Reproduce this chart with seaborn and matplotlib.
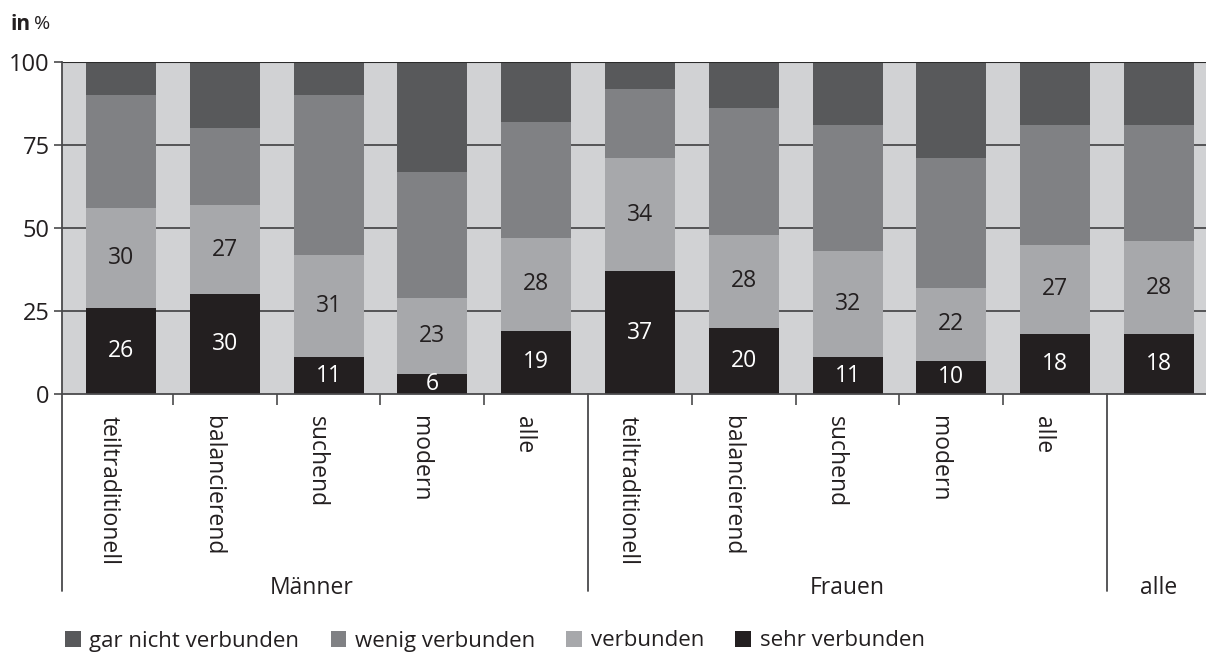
import matplotlib
matplotlib.use("Agg")
import matplotlib.pyplot as plt
import matplotlib.transforms as mtransforms
from matplotlib.patches import Patch
from matplotlib.lines import Line2D
import numpy as np
import pandas as pd
import seaborn as sns

# --- data -------------------------------------------------------------
groups = ["Männer"] * 5 + ["Frauen"] * 5 + ["alle"]
types = ["teiltraditionell", "balancierend", "suchend", "modern", "alle",
         "teiltraditionell", "balancierend", "suchend", "modern", "alle", ""]
sehr_verbunden = [26, 30, 11, 6, 19, 37, 20, 11, 10, 18, 18]
verbunden = [30, 27, 31, 23, 28, 34, 28, 32, 22, 27, 28]
wenig_verbunden = [34, 23, 48, 38, 35, 21, 38, 38, 39, 36, 35]
gar_nicht_verbunden = [10, 20, 10, 33, 18, 8, 14, 19, 29, 19, 19]
group_names = ["Männer", "Frauen", "alle"]
y_ticks = [0, 25, 50, 75, 100]
series_names = ["gar nicht verbunden", "wenig verbunden", "verbunden", "sehr verbunden"]

# --- styling ----------------------------------------------------------
sns.set_theme(style="white")
plt.rcParams["font.family"] = ["Open Sans", "DejaVu Sans"]
colors = {
    "gar nicht verbunden": "#58595b",
    "wenig verbunden": "#808184",
    "verbunden": "#a7a8ab",
    "sehr verbunden": "#231f20",
}
bg = "#d1d2d4"
line_col = "#4a4a4c"
txt_col = "#231f20"
fs = 16.5

W, H = 1206, 657
fig = plt.figure(figsize=(W / 100, H / 100), dpi=100)
ax = fig.add_axes([62 / W, (H - 394) / H, (W - 62) / W, 332 / H])
ax.set_facecolor(bg)

keys = [f"{g}|{t}|{i}" for i, (g, t) in enumerate(zip(groups, types))]
df = pd.DataFrame({
    "key": keys,
    "sehr verbunden": sehr_verbunden,
    "verbunden": verbunden,
    "wenig verbunden": wenig_verbunden,
    "gar nicht verbunden": gar_nicht_verbunden,
})
# cumulative heights, stacked from the bottom layer upwards
stack_order = ["sehr verbunden", "verbunden", "wenig verbunden", "gar nicht verbunden"]
cum = df[stack_order].cumsum(axis=1)

# draw tallest cumulative layer first so each lower layer covers it
bar_w = 0.674
for name in reversed(stack_order):
    sns.barplot(x=df["key"], y=cum[name], order=keys, color=colors[name],
                width=bar_w, saturation=1, ax=ax, zorder=2, linewidth=0)

# value labels for the two lower segments
for i in range(len(keys)):
    s = sehr_verbunden[i]
    v = verbunden[i]
    ax.text(i, s / 2, f"{s}", ha="center", va="center", color="white",
            fontsize=fs, zorder=4)
    ax.text(i, s + v / 2, f"{v}", ha="center", va="center", color=txt_col,
            fontsize=fs, zorder=4)

# axes limits and grid
x_left = -0.568
x_right = (W - 121) / 103.8
ax.set_xlim(x_left, x_right)
ax.set_ylim(0, 100)
ax.set_yticks(y_ticks)
ax.set_yticklabels([str(t) for t in y_ticks], fontsize=fs + 0.5, color=txt_col)
ax.grid(False)
for t in y_ticks[1:-1]:
    ax.axhline(t, color=line_col, lw=1.3, zorder=1)
ax.axhline(100, color="#2b2b2b", lw=1.5, zorder=5)
ax.tick_params(axis="y", which="major", length=6, width=1.2, color=line_col,
               direction="out", left=True, pad=3)

for side in ["top", "right"]:
    ax.spines[side].set_visible(False)
for side in ["left", "bottom"]:
    ax.spines[side].set_color(line_col)
    ax.spines[side].set_linewidth(1.3)
    ax.spines[side].set_zorder(5)

# x axis: short ticks between categories, rotated labels at bar centres
boundaries = [0.5, 1.5, 2.5, 3.5, 5.5, 6.5, 7.5, 8.5]
ax.set_xticks(boundaries)
ax.set_xticklabels([])
ax.tick_params(axis="x", which="major", length=8, width=1.2, color=line_col,
               direction="out", bottom=True)
ax.set_xticks(range(len(keys)), minor=True)
ax.set_xticklabels(types, minor=True, rotation=-90, fontsize=fs,
                   color=txt_col, va="top", ha="center")
ax.tick_params(axis="x", which="minor", length=0, pad=16)
shift = mtransforms.ScaledTranslation(-12 / 100, 0, fig.dpi_scale_trans)
for lab in ax.get_xticklabels(minor=True):
    lab.set_transform(lab.get_transform() + shift)
ax.set_xlabel("")
ax.set_ylabel("")

# long separator lines between groups, reaching down to the group labels
sep_bottom = -(591 - 394) / 332
trans = mtransforms.blended_transform_factory(ax.transData, ax.transAxes)
for xs in [x_left, 4.5, 9.5]:
    ax.add_line(Line2D([xs, xs], [0, sep_bottom], transform=trans,
                       color=line_col, lw=1.3, clip_on=False))

group_y = -(588 - 394) / 332
for name, xc in zip(group_names, [1.84, 7.0, 10.0]):
    ax.text(xc, group_y, name, transform=trans, ha="center", va="center",
            fontsize=fs, color=txt_col)

# unit label
fig.text(10 / W, 1 - 24 / H, "in", fontsize=15, fontweight="bold",
         color=txt_col, va="center", ha="left")
fig.text(34 / W, 1 - 24 / H, "%", fontsize=14, color=txt_col,
         va="center", ha="left")

# legend
handles = [Patch(facecolor=colors[n], edgecolor="none", label=n) for n in series_names]
fig.legend(handles=handles, loc="center left", bbox_to_anchor=(45 / W, 16 / H),
           ncol=4, frameon=False, fontsize=fs - 0.5, handlelength=0.7,
           handleheight=0.7, handletextpad=0.4, columnspacing=1.4,
           labelcolor=txt_col)

fig.savefig("out.png", dpi=100, facecolor="white")
